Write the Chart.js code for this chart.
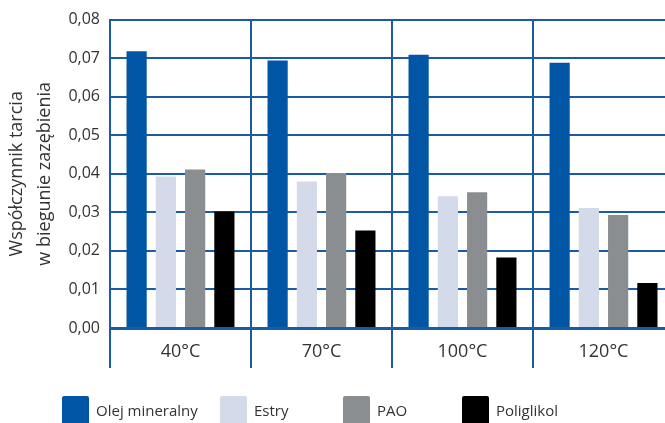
<!DOCTYPE html>
<html>
<head>
<meta charset="utf-8">
<script src="https://cdn.jsdelivr.net/npm/chart.js@4/dist/chart.umd.min.js"></script>
<style>
  html, body { margin: 0; padding: 0; overflow: hidden; background: #fff; }
  #wrap { width: 676px; height: 423px; }
</style>
</head>
<body>
<div id="wrap"><canvas id="chart" width="676" height="423"></canvas></div>
<script>
const temps = ['40°C', '70°C', '100°C', '120°C'];
const olejMineralny = [0.0718, 0.0694, 0.0709, 0.0688];
const estry = [0.0393, 0.0380, 0.0342, 0.0311];
const pao = [0.0411, 0.0402, 0.0352, 0.0293];
const poliglikol = [0.0302, 0.0253, 0.0183, 0.0117];
const yTicks = [0, 0.01, 0.02, 0.03, 0.04, 0.05, 0.06, 0.07, 0.08];

const lineBlue = '#1b5aa6';
const textColor = '#333333';
const font = "'Open Sans', sans-serif";

// legend along the bottom edge, items at fixed columns
const bottomLegend = {
  id: 'bottomLegend',
  afterDraw(chart) {
    const ctx = chart.ctx;
    const cols = [62, 220, 343, 462];
    ctx.save();
    ctx.font = '15px ' + font;
    ctx.textBaseline = 'middle';
    chart.data.datasets.forEach((ds, i) => {
      const x = cols[i];
      ctx.fillStyle = ds.backgroundColor;
      ctx.beginPath();
      ctx.roundRect(x, 396, 27, 30, 2);
      ctx.fill();
      ctx.fillStyle = textColor;
      ctx.fillText(ds.label, x + 34, 412);
    });
    ctx.restore();
  }
};

const ctx = document.getElementById('chart').getContext('2d');
const myChart = new Chart(ctx, {
  type: 'bar',
  data: {
    labels: temps,
    datasets: [
      { label: 'Olej mineralny', data: olejMineralny, backgroundColor: '#0055a5' },
      { label: 'Estry', data: estry, backgroundColor: '#d3daea' },
      { label: 'PAO', data: pao, backgroundColor: '#8b8e91' },
      { label: 'Poliglikol', data: poliglikol, backgroundColor: '#000000' },
    ],
  },
  options: {
    responsive: false,
    animation: false,
    categoryPercentage: 0.83,
    barPercentage: 0.69,
    layout: { padding: { top: 19, right: 2, bottom: 53, left: 0 } },
    plugins: {
      legend: { display: false },
      tooltip: { enabled: false },
    },
    scales: {
      x: {
        grid: {
          offset: true,
          color: lineBlue,
          lineWidth: 2,
          tickLength: 40,
        },
        border: { color: lineBlue, width: 3 },
        ticks: {
          color: textColor,
          font: { family: font, size: 18 },
          padding: -27,
        },
        afterFit(scale) { scale.height = 42; },
      },
      y: {
        min: 0,
        max: 0.08,
        afterBuildTicks(scale) { scale.ticks = yTicks.map(v => ({ value: v })); },
        grid: { color: lineBlue, lineWidth: 2, drawTicks: false },
        border: { color: lineBlue, width: 2 },
        ticks: {
          color: textColor,
          font: { family: font, size: 16 },
          padding: 10,
          callback: v => v.toFixed(2).replace('.', ','),
        },
        title: {
          display: true,
          text: ['Współczynnik tarcia', 'w biegunie zazębienia'],
          color: textColor,
          font: { family: font, size: 18, lineHeight: 1.55 },
          padding: { top: 3, bottom: 0 },
        },
        afterFit(scale) { scale.width = 110; },
      },
    },
  },
  plugins: [bottomLegend],
});
</script>
</body>
</html>
